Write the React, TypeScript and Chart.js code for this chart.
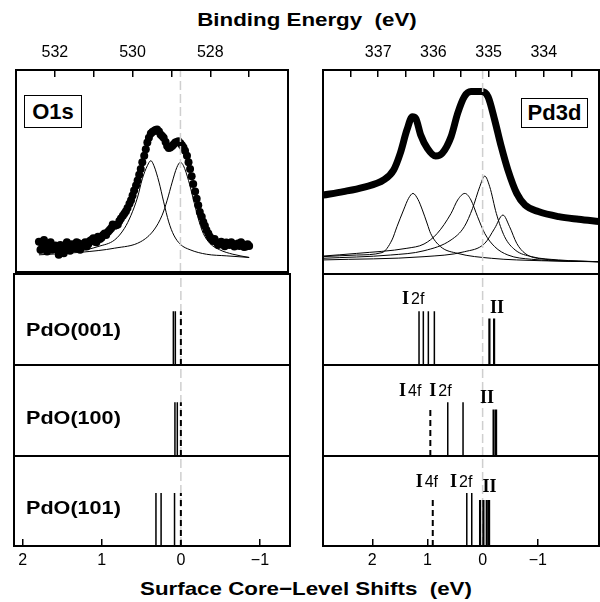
import React, { useEffect, useRef } from 'react';
import { Chart, registerables } from 'chart.js';

Chart.register(...registerables);

type Pt = [number, number];

// ---------- O1s spectrum: binding energy (eV), intensity (a.u.) ----------
const o1sSpectrum: Pt[] = [
  [532.41, 15.0], [532.37, 11.0], [532.32, 13.4], [532.28, 15.9], [532.24, 12.1], [532.2, 10.1],
  [532.15, 13.7], [532.11, 14.7], [532.07, 11.0], [532.03, 12.6], [531.99, 13.1], [531.94, 11.0],
  [531.9, 8.5], [531.86, 13.4], [531.82, 11.4], [531.77, 9.3], [531.73, 13.4], [531.69, 14.7],
  [531.65, 12.1], [531.61, 10.5], [531.56, 13.7], [531.52, 12.8], [531.48, 11.8], [531.44, 14.7],
  [531.39, 14.2], [531.35, 11.0], [531.31, 12.6], [531.27, 13.7], [531.22, 14.7], [531.18, 12.6],
  [531.14, 13.7], [531.1, 15.4], [531.06, 15.9], [531.01, 16.7], [530.97, 15.0], [530.93, 14.7],
  [530.89, 17.5], [530.84, 16.3], [530.8, 17.0], [530.76, 18.3], [530.72, 19.1], [530.68, 18.3],
  [530.63, 19.9], [530.59, 20.8], [530.55, 21.6], [530.51, 23.5], [530.46, 22.9], [530.42, 23.2],
  [530.38, 23.5], [530.34, 25.2], [530.3, 26.5], [530.25, 27.8], [530.21, 28.9], [530.17, 30.1],
  [530.13, 31.7], [530.08, 33.8], [530.04, 35.5], [530.0, 37.9], [529.96, 40.4], [529.91, 42.8],
  [529.87, 45.3], [529.83, 48.1], [529.79, 51.0], [529.75, 54.3], [529.7, 57.5], [529.66, 60.8],
  [529.62, 64.1], [529.58, 66.5], [529.53, 68.6], [529.49, 69.3], [529.45, 69.8], [529.41, 70.3],
  [529.37, 70.6], [529.32, 69.6], [529.28, 68.1], [529.24, 67.3], [529.2, 66.5], [529.15, 64.4],
  [529.11, 62.4], [529.07, 61.4], [529.03, 61.6], [528.98, 62.4], [528.94, 63.2], [528.9, 64.1],
  [528.86, 64.4], [528.82, 64.7], [528.77, 63.7], [528.73, 62.8], [528.69, 61.6], [528.65, 60.0],
  [528.6, 57.5], [528.56, 54.3], [528.52, 51.0], [528.48, 47.4], [528.44, 43.6], [528.39, 39.9],
  [528.35, 36.3], [528.31, 33.0], [528.27, 29.7], [528.22, 27.3], [528.18, 24.8], [528.14, 22.9],
  [528.1, 20.8], [528.05, 19.1], [528.01, 17.5], [527.97, 16.3], [527.93, 15.4], [527.89, 16.3],
  [527.84, 14.7], [527.8, 13.4], [527.76, 14.2], [527.72, 15.0], [527.67, 13.7], [527.63, 12.8],
  [527.59, 14.6], [527.55, 14.1], [527.51, 13.4], [527.46, 14.7], [527.42, 13.7], [527.38, 12.6],
  [527.34, 13.4], [527.29, 14.1], [527.25, 12.9], [527.21, 14.7], [527.17, 13.7], [527.13, 12.4],
  [527.08, 12.6], [527.04, 13.7], [527.0, 12.9],
];
const o1sFitA: Pt[] = [
  [532.41, 9.3], [531.73, 10.1], [531.31, 10.6], [530.89, 12.6], [530.46, 15.9], [530.21, 21.6],
  [530.04, 28.1], [529.87, 37.1], [529.75, 46.1], [529.62, 52.6], [529.53, 55.1], [529.45, 52.6],
  [529.32, 44.5], [529.2, 34.7], [529.07, 24.8], [528.94, 18.3], [528.77, 13.7], [528.52, 11.0],
  [528.1, 8.8], [527.59, 8.0], [527.0, 7.2],
];
const o1sFitB: Pt[] = [
  [532.41, 8.5], [531.31, 9.8], [530.46, 11.8], [529.79, 15.0], [529.45, 20.8], [529.24, 28.1],
  [529.11, 35.5], [528.98, 44.5], [528.86, 51.8], [528.77, 54.3], [528.69, 52.6], [528.56, 45.3],
  [528.44, 36.3], [528.31, 26.5], [528.18, 19.1], [528.01, 14.2], [527.76, 11.0], [527.42, 8.8],
  [527.0, 7.2],
];

// ---------- Pd3d spectrum ----------
const pd3dSpectrum: Pt[] = [
  [338.0, 38.7], [337.63, 40.4], [337.27, 42.5], [336.9, 46.1], [336.72, 51.0], [336.6, 59.2],
  [336.48, 70.6], [336.38, 77.1], [336.32, 76.3], [336.23, 68.1], [336.11, 61.6], [335.96, 57.8],
  [335.84, 59.2], [335.68, 67.3], [335.56, 78.8], [335.44, 86.9], [335.32, 89.4], [335.13, 89.4],
  [335.01, 86.9], [334.89, 75.5], [334.77, 62.4], [334.65, 51.0], [334.49, 39.5], [334.34, 33.8],
  [334.1, 30.6], [333.73, 28.1], [333.37, 26.8], [333.0, 25.7],
];
const pd3dFitA: Pt[] = [
  [338.0, 8.5], [337.39, 9.3], [336.93, 10.5], [336.75, 16.7], [336.66, 23.2], [336.54, 31.4],
  [336.45, 37.1], [336.37, 39.5], [336.28, 36.6], [336.2, 31.4], [336.11, 24.5], [336.05, 19.9],
  [335.87, 13.4], [335.56, 10.1], [334.95, 7.7], [334.04, 6.5], [333.0, 6.0],
];
const pd3dFitB: Pt[] = [
  [338.0, 8.8], [337.39, 10.1], [336.48, 12.6], [336.17, 14.7], [335.93, 19.9], [335.68, 29.7],
  [335.56, 36.3], [335.43, 39.5], [335.32, 36.3], [335.2, 28.1], [335.07, 19.9], [334.89, 13.4],
  [334.65, 9.3], [334.22, 7.2], [333.0, 6.0],
];
const pd3dFitC: Pt[] = [
  [338.0, 7.7], [336.78, 9.3], [336.17, 11.4], [335.68, 16.7], [335.44, 23.2], [335.29, 32.2],
  [335.16, 42.8], [335.07, 48.0], [334.98, 42.8], [334.86, 29.7], [334.71, 18.3], [334.52, 11.8],
  [334.22, 8.5], [333.73, 6.9], [333.0, 6.0],
];
const pd3dFitD: Pt[] = [
  [338.0, 6.9], [336.17, 8.5], [335.44, 10.9], [335.07, 15.0], [334.89, 22.4], [334.74, 28.9],
  [334.62, 23.2], [334.49, 15.0], [334.34, 10.1], [334.04, 7.4], [333.0, 6.0],
];

// ---------- Surface core-level shifts (eV) ----------
const surfaceNames = ['PdO(001)', 'PdO(100)', 'PdO(101)'];
const o1sSolidShifts = [[0.095, 0.07], [0.075, 0.045], [0.315, 0.25, 0.08]];
const o1sDashedShifts = [[0.0], [0.0], [0.0]];
const pd3dI2fShifts = [[1.153, 1.075, 0.984, 0.875], [0.632, 0.355], [0.287, 0.197]];
const pd3dI4fShifts = [[], [0.948], [0.904]];
const pd3dIIShifts = [[-0.123, -0.208], [-0.199, -0.244], [0.046, -0.014, -0.075, -0.117]];
const o1sStickHeight = 0.59;
const i2fStickHeight = 0.59;
const i4fStickHeight = 0.535;
const iiStickHeight = 0.51;

// stick group labels (shift of left edge, relative height of baseline)
const pd3dGroupLabels = [
  [{ x: 1.461, y: 0.67, main: 'I', sub: '2f' }, { x: -0.135, y: 0.568, main: 'II', sub: '' }],
  [{ x: 1.516, y: 0.663, main: 'I', sub: '4f' }, { x: 0.966, y: 0.663, main: 'I', sub: '2f' }, { x: 0.046, y: 0.579, main: 'II', sub: '' }],
  [{ x: 1.213, y: 0.652, main: 'I', sub: '4f' }, { x: 0.59, y: 0.652, main: 'I', sub: '2f' }, { x: 0.004, y: 0.597, main: 'II', sub: '' }],
];

// ---------- axes ----------
const o1sShiftRange = [-1.38, 2.11];
const pd3dShiftRange = [-2.11, 2.894];
const shiftTickRange = [-1, 2];
const o1sEnergyRange = [526, 533];
const pd3dEnergyRange = [333, 338];
const shiftTickStep = 1;
const o1sEnergyTickStep = 1;
const o1sEnergyLabelEvery = 2;
const pd3dEnergyTickStep = 0.5;
const pd3dEnergyLabelEvery = 1;

const FONT = '"Liberation Sans", Arial, Helvetica, sans-serif';
const SERIF = '"Liberation Serif", "Times New Roman", serif';

Chart.defaults.font.family = FONT;
Chart.defaults.color = '#000';

const fmtShift = (v: number) => (v < 0 ? '\u2212' + String(Math.abs(v)) : String(v));

const zeroPadding = (s: any) => {
  s.paddingLeft = 0;
  s.paddingRight = 0;
  s.paddingTop = 0;
  s.paddingBottom = 0;
};

function shiftAxis(range: number[], show: boolean) {
  return {
    type: 'linear',
    position: 'bottom',
    min: range[0],
    max: range[1],
    reverse: true,
    display: show,
    grid: { drawOnChartArea: false, drawTicks: true, tickLength: -7, color: '#000', lineWidth: 1.5 },
    border: { display: false },
    ticks: {
      stepSize: shiftTickStep,
      includeBounds: false,
      autoSkip: false,
      maxRotation: 0,
      padding: 12,
      color: '#000',
      font: { size: 16, family: FONT },
      callback: (v: number) => fmtShift(v),
    },
    afterBuildTicks: (s: any) => {
      s.ticks = s.ticks.filter((t: any) => t.value >= shiftTickRange[0] && t.value <= shiftTickRange[1]);
    },
    afterFit: (s: any) => {
      s.height = show ? 30 : 0;
      zeroPadding(s);
    },
  };
}

function energyAxis(range: number[], step: number, every: number) {
  const [lo, hi] = range;
  return {
    type: 'linear',
    position: 'top',
    min: lo,
    max: hi,
    reverse: true,
    grid: { drawOnChartArea: false, drawTicks: true, tickLength: -7, color: '#000', lineWidth: 1.5 },
    border: { display: false },
    ticks: {
      stepSize: step,
      includeBounds: false,
      autoSkip: false,
      maxRotation: 0,
      padding: 15,
      color: '#000',
      font: { size: 16, family: FONT },
      callback: (v: number) => (v > lo && v < hi && Math.abs(v % every) < 1e-9 ? String(v) : ''),
    },
    afterFit: (s: any) => {
      s.height = 40;
      zeroPadding(s);
    },
  };
}

const framePlugin = {
  id: 'frame',
  afterDraw(chart: any) {
    const { ctx, chartArea: a } = chart;
    ctx.save();
    ctx.strokeStyle = '#000';
    ctx.lineWidth = 2;
    ctx.strokeRect(a.left, a.top, a.right - a.left, a.bottom - a.top);
    ctx.restore();
  },
};

function labelPlugin(items: { x: number; y: number; main: string; sub: string }[]) {
  return {
    id: 'groupLabels',
    afterDatasetsDraw(chart: any) {
      const { ctx } = chart;
      const xs = chart.scales.x;
      const ys = chart.scales.y;
      ctx.save();
      ctx.fillStyle = '#000';
      ctx.textAlign = 'left';
      ctx.textBaseline = 'alphabetic';
      for (const it of items) {
        let px = xs.getPixelForValue(it.x);
        const py = ys.getPixelForValue(it.y);
        ctx.font = 'bold 18px ' + SERIF;
        ctx.fillText(it.main, px, py);
        if (it.sub) {
          px += ctx.measureText(it.main).width + 2;
          ctx.font = '16px ' + FONT;
          ctx.fillText(it.sub, px, py);
        }
      }
      ctx.restore();
    },
  };
}

const toXY = (pts: Pt[]) => pts.map(([x, y]) => ({ x, y }));

function stickPoints(shifts: number[], h: number) {
  const out: { x: number; y: number | null }[] = [];
  for (const s of shifts) {
    out.push({ x: s, y: 0 }, { x: s, y: h }, { x: s, y: null });
  }
  return out;
}

function stickSet(shifts: number[], h: number, width: number, dashed: boolean) {
  return {
    data: stickPoints(shifts, h),
    borderColor: '#000',
    borderWidth: width,
    borderDash: dashed ? [6, 4] : [],
    pointRadius: 0,
    spanGaps: false,
    xAxisID: 'x',
    yAxisID: 'y',
    clip: 0,
  };
}

function zeroLine(yMax: number) {
  return {
    data: [
      { x: 0, y: 0 },
      { x: 0, y: yMax },
    ],
    borderColor: '#cfcfcf',
    borderWidth: 1.5,
    borderDash: [9, 4],
    pointRadius: 0,
    xAxisID: 'x',
    yAxisID: 'y',
  };
}

function fitLine(pts: Pt[]) {
  return {
    data: toXY(pts),
    borderColor: '#000',
    borderWidth: 1,
    pointRadius: 0,
    cubicInterpolationMode: 'monotone',
    xAxisID: 'x2',
    yAxisID: 'y',
    clip: 0,
  };
}

function baseOptions(padding: any, scales: any) {
  return {
    responsive: false,
    maintainAspectRatio: false,
    animation: false,
    events: [],
    layout: { padding },
    plugins: { legend: { display: false }, tooltip: { enabled: false }, title: { display: false } },
    scales,
  };
}

function topO1s() {
  return {
    type: 'line',
    data: {
      datasets: [
        zeroLine(100),
        {
          data: toXY(o1sSpectrum),
          showLine: false,
          pointRadius: 4,
          pointBackgroundColor: '#000',
          pointBorderWidth: 0,
          xAxisID: 'x2',
          yAxisID: 'y',
        },
        fitLine(o1sFitA),
        fitLine(o1sFitB),
      ],
    },
    options: baseOptions(
      { left: 2, right: 2, top: 0, bottom: 2 },
      {
        x: shiftAxis(o1sShiftRange, false),
        x2: energyAxis(o1sEnergyRange, o1sEnergyTickStep, o1sEnergyLabelEvery),
        y: { display: false, min: 0, max: 100 },
      }
    ),
    plugins: [framePlugin],
  };
}

function topPd3d() {
  return {
    type: 'line',
    data: {
      datasets: [
        zeroLine(100),
        {
          data: toXY(pd3dSpectrum),
          borderColor: '#000',
          borderWidth: 7,
          borderCapStyle: 'round',
          borderJoinStyle: 'round',
          pointRadius: 0,
          cubicInterpolationMode: 'monotone',
          xAxisID: 'x2',
          yAxisID: 'y',
          clip: 0,
        },
        fitLine(pd3dFitA),
        fitLine(pd3dFitB),
        fitLine(pd3dFitC),
        fitLine(pd3dFitD),
      ],
    },
    options: baseOptions(
      { left: 2, right: 2, top: 0, bottom: 2 },
      {
        x: shiftAxis(pd3dShiftRange, false),
        x2: energyAxis(pd3dEnergyRange, pd3dEnergyTickStep, pd3dEnergyLabelEvery),
        y: { display: false, min: 0, max: 100 },
      }
    ),
    plugins: [framePlugin],
  };
}

function rowO1s(i: number) {
  const last = i === surfaceNames.length - 1;
  return {
    type: 'line',
    data: {
      datasets: [
        stickSet(o1sDashedShifts[i], o1sStickHeight, 2, true),
        stickSet(o1sSolidShifts[i], o1sStickHeight, 1.5, false),
        zeroLine(1),
      ],
    },
    options: baseOptions(
      { left: 2, right: 2, top: 2, bottom: last ? 0 : 2 },
      {
        x: shiftAxis(o1sShiftRange, last),
        y: { display: false, min: 0, max: 1 },
      }
    ),
    plugins: [framePlugin],
  };
}

function rowPd3d(i: number) {
  const last = i === surfaceNames.length - 1;
  return {
    type: 'line',
    data: {
      datasets: [
        stickSet(pd3dI4fShifts[i], i4fStickHeight, 2, true),
        stickSet(pd3dI2fShifts[i], i2fStickHeight, 1.5, false),
        stickSet(pd3dIIShifts[i], iiStickHeight, 2.2, false),
        zeroLine(1),
      ],
    },
    options: baseOptions(
      { left: 2, right: 2, top: 2, bottom: last ? 0 : 2 },
      {
        x: shiftAxis(pd3dShiftRange, last),
        y: { display: false, min: 0, max: 1 },
      }
    ),
    plugins: [framePlugin, labelPlugin(pd3dGroupLabels[i])],
  };
}

function ChartPanel({ x, y, w, h, build }: { x: number; y: number; w: number; h: number; build: () => any }) {
  const ref = useRef<HTMLCanvasElement>(null);
  useEffect(() => {
    const chart = new Chart(ref.current as HTMLCanvasElement, build());
    return () => chart.destroy();
  }, []);
  return (
    <canvas
      ref={ref}
      width={w}
      height={h}
      style={{ position: 'absolute', left: x, top: y, width: w, height: h, display: 'block' }}
    />
  );
}

const colX = [12, 321];
const rowTops = [272, 363, 454];
const rowHeights = [95, 95, 122];
const labelTops = [321, 409, 499];

export default function App() {
  const titleStyle: React.CSSProperties = {
    position: 'absolute',
    width: 400,
    textAlign: 'center',
    font: 'bold 19px ' + FONT,
    lineHeight: '19px',
    whiteSpace: 'pre',
    transform: 'scaleX(1.175)',
    transformOrigin: 'center',
    color: '#000',
  };
  const boxStyle: React.CSSProperties = {
    position: 'absolute',
    boxSizing: 'border-box',
    border: '1.5px solid #000',
    background: '#fff',
    display: 'flex',
    alignItems: 'center',
    justifyContent: 'center',
    font: 'bold 22px ' + FONT,
    lineHeight: '22px',
    color: '#000',
  };
  return (
    <div
      style={{
        position: 'absolute',
        left: 0,
        top: 0,
        width: 600,
        height: 602,
        overflow: 'hidden',
        background: '#fff',
        fontFamily: FONT,
      }}
    >
      <ChartPanel x={colX[0]} y={30} w={280} h={246} build={topO1s} />
      <ChartPanel x={colX[1]} y={30} w={280} h={246} build={topPd3d} />
      {surfaceNames.map((_, i) => (
        <ChartPanel key={'o' + i} x={colX[0]} y={rowTops[i]} w={280} h={rowHeights[i]} build={() => rowO1s(i)} />
      ))}
      {surfaceNames.map((_, i) => (
        <ChartPanel key={'p' + i} x={colX[1]} y={rowTops[i]} w={280} h={rowHeights[i]} build={() => rowPd3d(i)} />
      ))}
      <div style={{ ...titleStyle, left: 107, top: 10 }}>{'Binding Energy  (eV)'}</div>
      <div style={{ ...titleStyle, left: 106, top: 579 }}>{'Surface Core\u2212Level Shifts  (eV)'}</div>
      {surfaceNames.map((name, i) => (
        <div
          key={name}
          style={{
            position: 'absolute',
            left: 26,
            top: labelTops[i],
            font: 'bold 18px ' + FONT,
            lineHeight: '18px',
            whiteSpace: 'pre',
            transform: 'scaleX(1.2)',
            transformOrigin: 'left center',
            color: '#000',
          }}
        >
          {name}
        </div>
      ))}
      <div style={{ ...boxStyle, left: 24, top: 95, width: 58, height: 33 }}>O1s</div>
      <div style={{ ...boxStyle, left: 521, top: 98, width: 67, height: 30 }}>Pd3d</div>
    </div>
  );
}
